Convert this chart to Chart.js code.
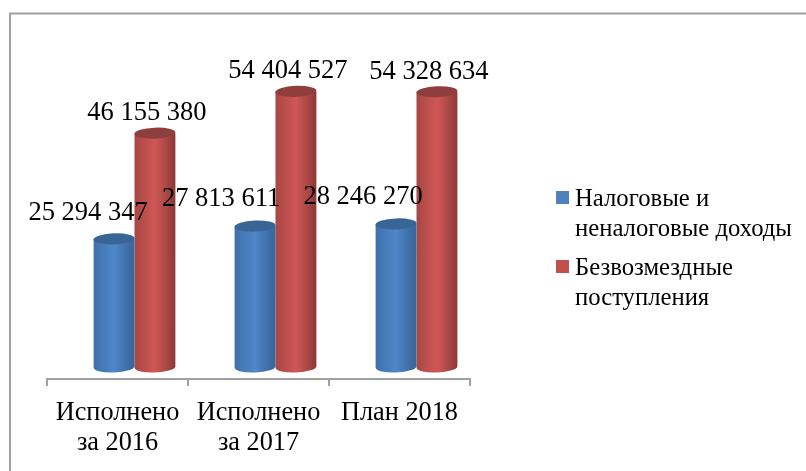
<!DOCTYPE html>
<html lang="ru">
<head>
<meta charset="utf-8">
<title>Доходы</title>
<script src="https://cdn.jsdelivr.net/npm/chart.js@4"></script>
<style>
    html, body { margin: 0; padding: 0; background: #fff; overflow: hidden; }
    canvas { display: block; }
</style>
</head>
<body>
<canvas id="chart" width="806" height="471"></canvas>
<script>
const categories = [['Исполнено', 'за 2016'], ['Исполнено', 'за 2017'], 'План 2018'];
const taxIncome = [25294347, 27813611, 28246270];
const grants = [46155380, 54404527, 54328634];
const seriesNames = [['Налоговые и', 'неналоговые доходы'], ['Безвозмездные', 'поступления']];

const SERIF = '"Liberation Serif", serif';

// 3D look: columns sit up and to the right of the axis
const depthX = 17;
const depthY = -12;

// label position relative to the top of its column
const labelOffsets = [
    [[-26, -26], [-34, -27], [-33, -27]],
    [[-8, -20], [-8, -20], [-8, -20]]
];

const shades = [
    { edge: '#376596', side: '#3f70ab', mid: '#4f87c9', top: '#396594', swatch: '#4f81bd' },
    { edge: '#8a3836', side: '#a84644', mid: '#cf5855', top: '#8e3e3c', swatch: '#c0504d' }
];

function formatValue(v) {
    return String(v).replace(/\B(?=(\d{3})+$)/g, ' ');
}

function drawCylinder(ctx, bar, shade) {
    const left = bar.x - bar.width / 2;
    const right = bar.x + bar.width / 2;
    const rx = bar.width / 2;
    const ry = 5.5;
    const tilt = -0.04;

    const grad = ctx.createLinearGradient(left, 0, right, 0);
    grad.addColorStop(0, shade.side);
    grad.addColorStop(0.5, shade.mid);
    grad.addColorStop(0.8, shade.side);
    grad.addColorStop(1, shade.edge);

    ctx.beginPath();
    ctx.moveTo(left, bar.y);
    ctx.lineTo(left, bar.base);
    ctx.ellipse(bar.x, bar.base, rx, ry, tilt, Math.PI, 0, true);
    ctx.lineTo(right, bar.y);
    ctx.closePath();
    ctx.fillStyle = grad;
    ctx.fill();

    ctx.beginPath();
    ctx.ellipse(bar.x, bar.y, rx, ry, tilt, 0, Math.PI * 2);
    ctx.fillStyle = shade.top;
    ctx.fill();
}

const cylinderPlugin = {
    id: 'cylinders',
    beforeDraw(chart) {
        // frame runs off the right and bottom of the picture
        const ctx = chart.ctx;
        ctx.save();
        ctx.strokeStyle = '#a0a0a0';
        ctx.lineWidth = 2;
        ctx.beginPath();
        ctx.moveTo(10, 471);
        ctx.lineTo(10, 13.5);
        ctx.lineTo(806, 13.5);
        ctx.stroke();
        ctx.restore();
    },
    beforeDatasetDraw(chart, args) {
        const ctx = chart.ctx;
        ctx.save();
        ctx.translate(depthX, depthY);
        args.meta.data.forEach(bar => drawCylinder(ctx, bar, shades[args.index]));
        ctx.restore();
        return false;
    },
    afterDatasetsDraw(chart) {
        const ctx = chart.ctx;
        ctx.save();
        ctx.font = '26.5px ' + SERIF;
        ctx.fillStyle = '#000';
        ctx.textAlign = 'center';
        ctx.textBaseline = 'middle';
        chart.data.datasets.forEach((ds, i) => {
            chart.getDatasetMeta(i).data.forEach((bar, j) => {
                const off = labelOffsets[i][j];
                ctx.fillText(formatValue(ds.data[j]), bar.x + depthX + off[0], bar.y + depthY + off[1]);
            });
        });

        // legend
        ctx.font = '24.7px ' + SERIF;
        ctx.textAlign = 'left';
        const legendTops = [191, 260];
        seriesNames.forEach((lines, i) => {
            ctx.fillStyle = shades[i].swatch;
            ctx.fillRect(556, legendTops[i], 13, 13);
            ctx.fillStyle = '#000';
            lines.forEach((line, k) => ctx.fillText(line, 575, legendTops[i] + 9 + k * 30));
        });
        ctx.restore();
    }
};

new Chart(document.getElementById('chart').getContext('2d'), {
    type: 'bar',
    data: {
        labels: categories,
        datasets: [
            { label: 'Налоговые и неналоговые доходы', data: taxIncome },
            { label: 'Безвозмездные поступления', data: grants }
        ]
    },
    options: {
        responsive: false,
        animation: false,
        categoryPercentage: 0.58,
        barPercentage: 1,
        layout: { padding: { left: 47, right: 336, top: 75, bottom: 0 } },
        scales: {
            x: {
                afterFit: scale => { scale.height = 92; },
                border: { color: '#a0a0a0', width: 2 },
                grid: { drawOnChartArea: false, color: '#a0a0a0', lineWidth: 2, tickLength: 7 },
                ticks: {
                    color: '#000',
                    padding: 12,
                    maxRotation: 0,
                    autoSkip: false,
                    font: { family: SERIF, size: 26.3, lineHeight: 1.15 }
                }
            },
            y: { display: false, min: 0, max: 60000000 }
        },
        plugins: {
            legend: { display: false },
            tooltip: { enabled: false }
        }
    },
    plugins: [cylinderPlugin]
});
</script>
</body>
</html>
